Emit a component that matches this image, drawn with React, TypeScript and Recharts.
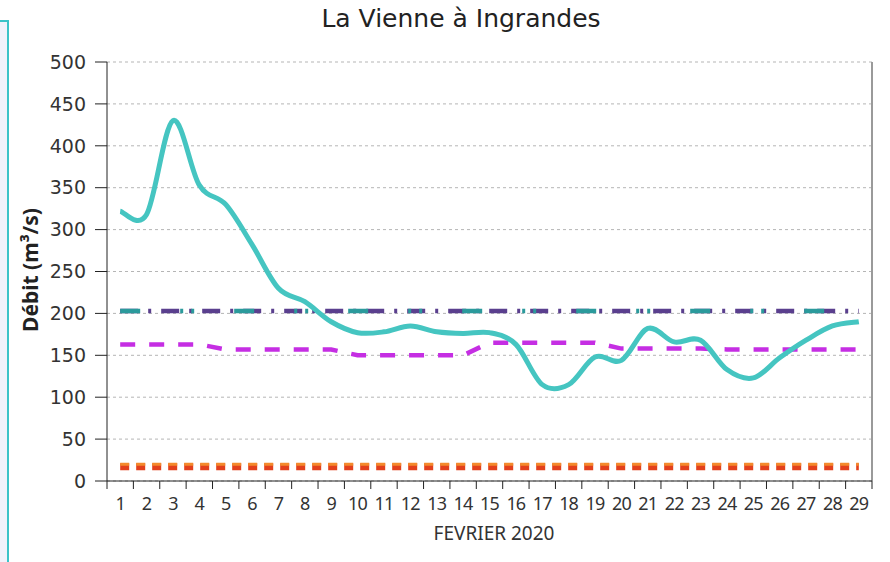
import React from 'react';
import {
  CartesianGrid,
  Line,
  LineChart,
  ReferenceLine,
  XAxis,
  YAxis,
} from 'recharts';

const days = [
  1, 2, 3, 4, 5, 6, 7, 8, 9, 10, 11, 12, 13, 14, 15, 16, 17, 18, 19, 20, 21,
  22, 23, 24, 25, 26, 27, 28, 29,
];
const debit = [
  322, 318, 430, 353, 330, 282, 230, 214, 190, 177, 178, 185, 178, 176, 177,
  163, 115, 115, 148, 144, 182, 166, 168, 133, 123, 147, 168, 185, 190,
];
const debitReference = [
  163, 163, 163, 163, 157, 157, 157, 157, 157, 150, 150, 150, 150, 150, 165,
  165, 165, 165, 165, 158, 158, 158, 158, 157, 157, 157, 157, 157, 157,
];
const seuilHaut = 203;
const seuilHaut2 = 203;
const seuilBas = 17;
const seuilBas2 = 20;
const yTicks = [0, 50, 100, 150, 200, 250, 300, 350, 400, 450, 500];

const data = days.map((d, i) => ({
  day: d,
  debit: debit[i],
  ref: debitReference[i],
  s1: seuilHaut,
  s2: seuilHaut2,
  b1: seuilBas,
  b2: seuilBas2,
}));

const PLOT_W = 765;
const band = PLOT_W / days.length;

// lissage type Excel (Catmull-Rom)
function catmullRom(context: any) {
  let pts: number[][] = [];
  return {
    areaStart() {},
    areaEnd() {},
    lineStart() {
      pts = [];
    },
    point(x: number, y: number) {
      pts.push([+x, +y]);
    },
    lineEnd() {
      if (!pts.length) return;
      context.moveTo(pts[0][0], pts[0][1]);
      for (let i = 0; i < pts.length - 1; i++) {
        const p0 = pts[i - 1] || pts[i];
        const p1 = pts[i];
        const p2 = pts[i + 1];
        const p3 = pts[i + 2] || p2;
        context.bezierCurveTo(
          p1[0] + (p2[0] - p0[0]) / 6,
          p1[1] + (p2[1] - p0[1]) / 6,
          p2[0] - (p3[0] - p1[0]) / 6,
          p2[1] - (p3[1] - p1[1]) / 6,
          p2[0],
          p2[1]
        );
      }
    },
  };
}

function DayTick(props: any) {
  const { x, y, payload } = props;
  const last = payload.value === days[days.length - 1];
  return (
    <g>
      <line x1={x - band / 2} x2={x - band / 2} y1={y - 8} y2={y} stroke="#222" />
      {last && (
        <line x1={x + band / 2} x2={x + band / 2} y1={y - 8} y2={y} stroke="#222" />
      )}
      <text
        x={x}
        y={y + 21}
        textAnchor="middle"
        fontSize={18}
        fill="#333"
        letterSpacing={-0.8}
        fontFamily="'Noto Sans', sans-serif"
      >
        {payload.value}
      </text>
    </g>
  );
}

export default function App() {
  return (
    <div
      style={{
        position: 'absolute',
        left: 0,
        top: 0,
        width: 890,
        height: 562,
        background: '#fff',
        fontFamily: "'Noto Sans', sans-serif",
        overflow: 'hidden',
      }}
    >
      <div
        style={{
          position: 'absolute',
          left: 0,
          top: 20,
          width: 7,
          height: 542,
          background: '#f1f2fb',
          borderRight: '2px solid #3cc3c8',
          borderTop: '2px solid #3cc3c8',
        }}
      />
      <div
        style={{
          position: 'absolute',
          left: 0,
          width: 922,
          top: 4,
          textAlign: 'center',
          fontSize: 25,
          color: '#222',
          fontFamily: "'DejaVu Sans', sans-serif",
        }}
      >
        La Vienne à Ingrandes
      </div>
      <div
        style={{
          position: 'absolute',
          left: 30,
          top: 270,
          transform: 'translate(-50%, -50%) rotate(-90deg)',
          fontSize: 21,
          fontWeight: 700,
          color: '#222',
          whiteSpace: 'nowrap',
        }}
      >
        Débit (m³/s)
      </div>
      <div
        style={{
          position: 'absolute',
          left: 494,
          top: 520,
          transform: 'translateX(-50%)',
          fontSize: 19,
          color: '#333',
          whiteSpace: 'nowrap',
        }}
      >
        FEVRIER 2020
      </div>
      <div style={{ position: 'absolute', left: 0, top: 0 }}>
        <LineChart
          width={890}
          height={562}
          data={data}
          margin={{ top: 62, right: 18, bottom: 31, left: 57 }}
        >
          <CartesianGrid
            vertical={false}
            stroke="#b5b5b5"
            strokeDasharray="3 3"
          />
          <XAxis
            dataKey="day"
            type="number"
            domain={[0.5, 29.5]}
            ticks={days}
            interval={0}
            height={50}
            tickLine={false}
            tickSize={8}
            tickMargin={0}
            axisLine={{ stroke: '#222' }}
            tick={<DayTick />}
          />
          <YAxis
            type="number"
            domain={[0, 500]}
            ticks={yTicks}
            interval={0}
            width={50}
            tickSize={12}
            tickMargin={9}
            axisLine={{ stroke: '#222' }}
            tickLine={{ stroke: '#222' }}
            tick={{ fontSize: 19, fill: '#333', fontFamily: "'DejaVu Sans', sans-serif" }}
          />
          <ReferenceLine x={29.5} stroke="#9a9a9a" strokeWidth={2} />
          <Line
            dataKey="b1"
            stroke="#e3401c"
            strokeWidth={7}
            strokeDasharray="9 7"
            dot={false}
            isAnimationActive={false}
          />
          <Line
            dataKey="b2"
            stroke="#f48a2c"
            strokeWidth={3}
            strokeDasharray="9 7"
            dot={false}
            isAnimationActive={false}
          />
          <Line
            dataKey="ref"
            stroke="#c52ee3"
            strokeWidth={4.5}
            strokeDasharray="15 14"
            dot={false}
            isAnimationActive={false}
          />
          <Line
            dataKey="s1"
            stroke="#5a3f8e"
            strokeWidth={4.5}
            strokeDasharray="18 10 3 10"
            dot={false}
            isAnimationActive={false}
          />
          <Line
            dataKey="s2"
            stroke="#2b9a9c"
            strokeWidth={4.5}
            strokeDasharray="20 40 3 8 3 40"
            dot={false}
            isAnimationActive={false}
          />
          <Line
            dataKey="debit"
            type={catmullRom as any}
            stroke="#45c5c1"
            strokeWidth={5}
            dot={false}
            isAnimationActive={false}
          />
        </LineChart>
      </div>
    </div>
  );
}
